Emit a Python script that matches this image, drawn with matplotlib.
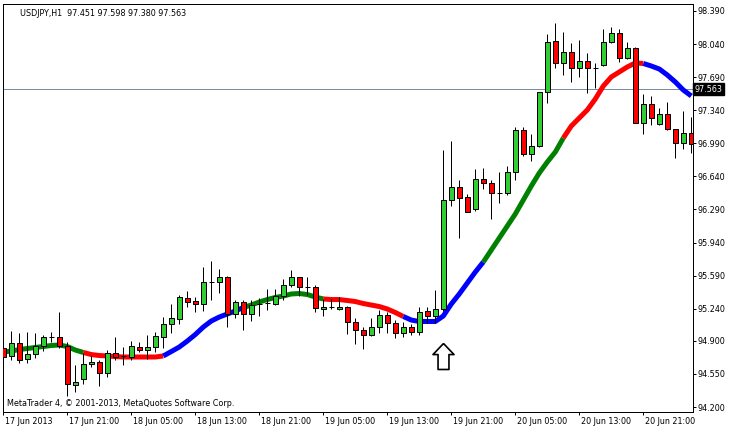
import numpy as np
import matplotlib
matplotlib.use("Agg")
import matplotlib.pyplot as plt
import matplotlib.transforms as mtransforms
from matplotlib.path import Path

plt.rcParams.update({
    "font.family": "DejaVu Sans",
    "font.size": 5.8,
})

# --- USDJPY H1, bar 0 = 17 Jun 2013 13:00 ---
opens = [94.824, 94.740, 94.874, 94.705, 94.758, 94.845, 94.944, 94.937, 94.845, 94.430,
         94.493, 94.655, 94.676, 94.557, 94.769, 94.740, 94.734, 94.838, 94.798, 94.838,
         94.944, 95.075, 95.134, 95.350, 95.322, 95.287, 95.526, 95.526, 95.572, 95.181,
         95.308, 95.181, 95.290, 95.297, 95.290, 95.378, 95.491, 95.572, 95.473, 95.466,
         95.237, 95.255, 95.234, 95.255, 95.096, 95.015, 94.959, 95.050, 95.170, 95.086,
         94.980, 95.050, 94.994, 95.213, 95.160, 95.234, 96.390, 96.525, 96.419, 96.292,
         96.609, 96.567, 96.467, 96.461, 96.683, 97.131, 96.877, 96.962, 97.530, 98.069,
         97.837, 97.953, 97.784, 97.861, 97.790, 97.816, 98.059, 98.154, 97.890, 97.995,
         97.208, 97.403, 97.191, 97.297, 97.138, 96.990, 97.096]
highs = [94.888, 95.004, 94.980, 94.994, 94.986, 94.962, 94.997, 95.205, 94.891, 94.644,
         94.768, 94.740, 94.697, 94.800, 94.941, 94.838, 94.898, 94.888, 94.962, 94.994,
         95.155, 95.287, 95.385, 95.431, 95.361, 95.685, 95.745, 95.657, 95.589, 95.332,
         95.332, 95.332, 95.350, 95.445, 95.445, 95.551, 95.650, 95.579, 95.572, 95.491,
         95.340, 95.340, 95.361, 95.269, 95.139, 95.050, 95.139, 95.226, 95.208, 95.120,
         95.102, 95.078, 95.261, 95.258, 95.438, 96.919, 97.018, 96.602, 96.454, 96.715,
         96.726, 96.602, 96.690, 96.753, 97.166, 97.166, 97.089, 97.536, 98.147, 98.266,
         98.168, 98.055, 98.083, 97.949, 97.837, 98.196, 98.218, 98.196, 98.065, 98.012,
         97.509, 97.491, 97.361, 97.430, 97.138, 97.332, 97.272]
lows = [94.655, 94.697, 94.669, 94.669, 94.722, 94.793, 94.891, 94.821, 94.316, 94.362,
        94.440, 94.628, 94.417, 94.514, 94.697, 94.641, 94.697, 94.777, 94.710, 94.785,
        94.821, 94.986, 95.078, 95.261, 95.208, 95.219, 95.332, 95.409, 95.050, 95.145,
        95.015, 95.113, 95.163, 95.226, 95.279, 95.332, 95.473, 95.374, 95.385, 95.208,
        95.163, 95.234, 95.226, 94.972, 94.867, 94.810, 94.951, 94.986, 94.986, 94.927,
        94.937, 94.959, 94.965, 95.086, 95.086, 95.216, 96.327, 95.985, 96.260, 96.277,
        96.510, 96.186, 96.355, 96.443, 96.602, 96.856, 96.806, 96.954, 97.413, 97.790,
        97.710, 97.642, 97.695, 97.526, 97.572, 97.808, 98.051, 97.854, 97.882, 97.208,
        97.085, 97.184, 97.184, 97.131, 96.838, 96.927, 96.891]
closes = [94.729, 94.874, 94.697, 94.758, 94.845, 94.937, 94.944, 94.845, 94.440, 94.465,
          94.652, 94.681, 94.557, 94.771, 94.732, 94.740, 94.842, 94.801, 94.835, 94.951,
          95.078, 95.139, 95.361, 95.314, 95.287, 95.523, 95.526, 95.572, 95.184, 95.311,
          95.181, 95.279, 95.290, 95.297, 95.378, 95.491, 95.572, 95.466, 95.473, 95.244,
          95.261, 95.255, 95.255, 95.096, 95.015, 94.959, 95.050, 95.170, 95.086, 94.980,
          95.050, 94.997, 95.208, 95.160, 95.234, 96.390, 96.525, 96.408, 96.260, 96.609,
          96.567, 96.461, 96.467, 96.683, 97.131, 96.872, 96.962, 97.530, 98.059, 97.837,
          97.953, 97.784, 97.861, 97.784, 97.790, 98.059, 98.154, 97.890, 97.995, 97.208,
          97.403, 97.255, 97.297, 97.138, 96.990, 97.096, 96.983]

# trend-coloured moving average
ma = [94.782, 94.792, 94.808, 94.819, 94.830, 94.840, 94.851, 94.856, 94.840, 94.803,
      94.777, 94.755, 94.745, 94.740, 94.734, 94.729, 94.729, 94.729, 94.729, 94.729,
      94.740, 94.787, 94.835, 94.898, 94.967, 95.046, 95.110, 95.152, 95.184, 95.216,
      95.253, 95.279, 95.311, 95.337, 95.359, 95.374, 95.396, 95.401, 95.390, 95.364,
      95.343, 95.337, 95.337, 95.327, 95.316, 95.295, 95.279, 95.263, 95.237, 95.200,
      95.158, 95.120, 95.105, 95.105, 95.105, 95.163, 95.290, 95.396, 95.512, 95.628,
      95.734, 95.861, 95.988, 96.115, 96.242, 96.390, 96.538, 96.676, 96.792, 96.898,
      97.046, 97.173, 97.258, 97.343, 97.459, 97.596, 97.692, 97.745, 97.798, 97.840,
      97.835, 97.808, 97.776, 97.713, 97.639, 97.554, 97.491]
ma_breaks = [0, 10, 20, 30, 40, 50, 60, 70, 80, 86]
ma_colors = ["#008000", "#FF0000", "#0000FF", "#008000", "#FF0000",
             "#0000FF", "#008000", "#FF0000", "#0000FF"]

tick_bars = [0, 8, 16, 24, 32, 40, 48, 56, 64, 72, 80]
tick_labels = ["17 Jun 2013", "17 Jun 21:00", "18 Jun 05:00", "18 Jun 13:00",
               "18 Jun 21:00", "19 Jun 05:00", "19 Jun 13:00", "19 Jun 21:00",
               "20 Jun 05:00", "20 Jun 13:00", "20 Jun 21:00"]
price_ticks = [98.390, 98.040, 97.690, 97.340, 96.990, 96.640, 96.290,
               95.940, 95.590, 95.240, 94.900, 94.550, 94.200]
bid = 97.563
header = "USDJPY,H1  97.451 97.598 97.380 97.563"
footer = "MetaTrader 4, \u00a9 2001-2013, MetaQuotes Software Corp."
arrow_bar = 55
arrow_price = 94.736

# --- figure ---
W, H = 733, 429
fig = plt.figure(figsize=(W / 100, H / 100), dpi=100)
ax_h = 412.3 - 4.0
ax = fig.add_axes([2.7 / W, 16.7 / H, 690 / W, ax_h / H])

x = np.arange(len(opens))
o = np.array(opens)
c = np.array(closes)
up = c > o
dn = c < o
flat = c == o

px = 0.72  # one pixel in points

# bid line
ax.axhline(bid, color="#7a8ca0", lw=px, zorder=1)

# moving average segments
ma = np.array(ma)
for k, col in enumerate(ma_colors):
    s, e = ma_breaks[k], ma_breaks[k + 1]
    ax.plot(x[s:e + 1], ma[s:e + 1], color=col, lw=3.6,
            solid_capstyle="butt", zorder=2)

# candles
ax.vlines(x, lows, highs, color="black", lw=px, zorder=3)
ax.bar(x[up], (c - o)[up], bottom=o[up], width=0.6, color="#32CD32",
       edgecolor="black", linewidth=px, zorder=4)
ax.bar(x[dn], (c - o)[dn], bottom=o[dn], width=0.6, color="#FF0000",
       edgecolor="black", linewidth=px, zorder=4)
ax.hlines(o[flat], x[flat] - 0.3, x[flat] + 0.3, color="black", lw=px, zorder=4)

# hollow up arrow
arrow = Path([(0, 1), (0.81, 0.15), (0.42, 0.15), (0.42, -1), (-0.42, -1),
              (-0.42, 0.15), (-0.81, 0.15), (0, 1)])
ax.plot([arrow_bar], [arrow_price], marker=arrow, markersize=18.7,
        mfc="white", mec="black", mew=1.2, zorder=5)

ax.set_xlim(-0.075, 86.175)
ax.set_ylim(94.144, 98.464)

for sp in ax.spines.values():
    sp.set_color("black")
    sp.set_linewidth(px)

ax.yaxis.tick_right()
ax.set_yticks(price_ticks)
ax.set_yticklabels([f"{p:.3f}" for p in price_ticks])
ax.tick_params(axis="y", direction="out", length=2.2, width=px, pad=1.5,
               colors="black")
ax.set_xticks(tick_bars)
ax.set_xticklabels(tick_labels)
ax.tick_params(axis="x", direction="out", length=2.2, width=px, pad=1.0,
               colors="black")
offset = mtransforms.ScaledTranslation(1.5 / 100, 0, fig.dpi_scale_trans)
for lab in ax.get_xticklabels():
    lab.set_ha("left")
    lab.set_transform(lab.get_transform() + offset)

# bid price box on the right scale
ax.text(1.0025, bid, f"{bid:.3f}", transform=ax.get_yaxis_transform(),
        ha="left", va="center", color="white", fontsize=5.8,
        bbox=dict(boxstyle="square,pad=0.2", fc="black", ec="black"),
        zorder=6, clip_on=False)

ax.text(17.5 / 690, 1 - 9 / ax_h, header, transform=ax.transAxes,
        ha="left", va="center", color="black")
ax.text(4 / 690, 8.3 / ax_h, footer, transform=ax.transAxes,
        ha="left", va="center", color="black")

fig.savefig("out.png", dpi=100, facecolor="white")
